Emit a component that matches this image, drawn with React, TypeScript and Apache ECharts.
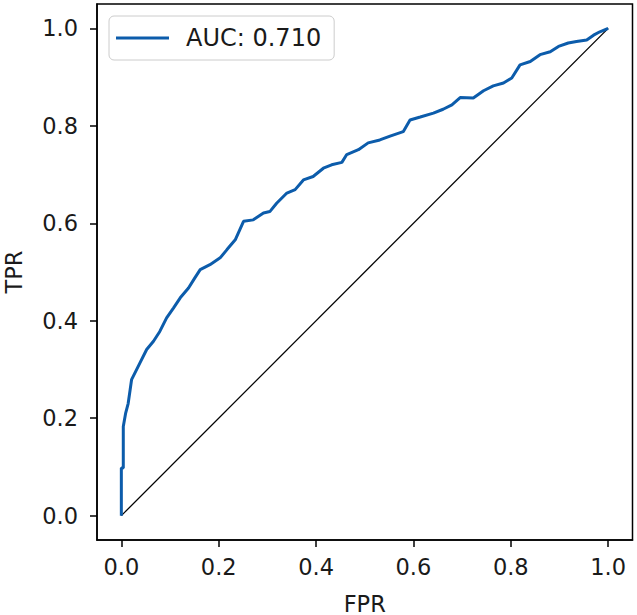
import React, { useEffect, useRef } from "react";
import * as echarts from "echarts";

const fprValues = [0, 0, 0.004, 0.004, 0.009, 0.014, 0.018, 0.021, 0.038, 0.052, 0.066, 0.079, 0.093, 0.107, 0.121, 0.138, 0.151, 0.162, 0.182, 0.203, 0.217, 0.234, 0.251, 0.271, 0.292, 0.305, 0.319, 0.34, 0.357, 0.374, 0.394, 0.415, 0.432, 0.453, 0.463, 0.487, 0.507, 0.531, 0.552, 0.579, 0.593, 0.614, 0.641, 0.661, 0.679, 0.696, 0.723, 0.744, 0.764, 0.785, 0.802, 0.819, 0.84, 0.86, 0.881, 0.898, 0.918, 0.935, 0.956, 0.97, 0.983, 1];
const tprValues = [0, 0.098, 0.098, 0.183, 0.211, 0.23, 0.258, 0.279, 0.313, 0.341, 0.358, 0.378, 0.406, 0.426, 0.447, 0.467, 0.488, 0.505, 0.515, 0.529, 0.546, 0.566, 0.604, 0.607, 0.621, 0.624, 0.641, 0.662, 0.669, 0.689, 0.696, 0.713, 0.72, 0.725, 0.741, 0.751, 0.765, 0.771, 0.779, 0.788, 0.812, 0.818, 0.826, 0.834, 0.843, 0.858, 0.857, 0.872, 0.882, 0.888, 0.898, 0.925, 0.932, 0.946, 0.952, 0.963, 0.97, 0.973, 0.976, 0.986, 0.993, 1];
const diagonalX = [0, 1];
const diagonalY = [0, 1];
const tickValues = [0, 0.2, 0.4, 0.6, 0.8, 1.0];
const legendLabel = "AUC: 0.710";

const FONT = "DejaVu Sans";
const TEXT = "#1a1a1a";

export default function App() {
  const ref = useRef<HTMLDivElement>(null);
  useEffect(() => {
    if (!ref.current) return;
    const chart = echarts.init(ref.current, null, { renderer: "svg" });
    const axisCommon = (name: string, isX: boolean) => ({
      type: "value",
      min: -0.05,
      max: 1.05,
      name,
      nameLocation: "middle",
      nameGap: isX ? 52 : 72,
      nameTextStyle: { fontFamily: FONT, fontSize: 22.5, color: TEXT },
      axisLine: { show: true, onZero: false, lineStyle: { color: "#000", width: 1.5 } },
      axisTick: {
        show: true,
        length: 7,
        customValues: tickValues,
        lineStyle: { color: "#000", width: 1.5 },
      },
      axisLabel: {
        customValues: tickValues,
        formatter: (v: number) => v.toFixed(1),
        fontFamily: FONT,
        fontSize: 22.5,
        color: TEXT,
        margin: isX ? 15 : 19,
      },
      splitLine: { show: false },
    });
    chart.setOption({
      animation: false,
      backgroundColor: "#fff",
      grid: {
        left: 97,
        top: 4,
        right: 4.5,
        bottom: 75,
        outerBoundsMode: "none",
        containLabel: false,
        show: true,
        borderColor: "#000",
        borderWidth: 1.5,
      },
      legend: {
        data: [legendLabel],
        left: 109,
        top: 16,
        icon: "rect",
        itemWidth: 53,
        itemHeight: 3,
        padding: [9, 13, 9, 7],
        borderColor: "#cccccc",
        borderWidth: 1,
        borderRadius: 5,
        backgroundColor: "#fff",
        textStyle: {
          fontFamily: FONT,
          fontSize: 24,
          color: TEXT,
          padding: [0, 0, 0, 12],
          lineHeight: 26,
        },
      },
      xAxis: axisCommon("FPR", true),
      yAxis: axisCommon("TPR", false),
      series: [
        {
          name: legendLabel,
          type: "line",
          data: fprValues.map((x, i) => [x, tprValues[i]]),
          showSymbol: false,
          symbol: "none",
          lineStyle: { color: "#0c5cab", width: 3 },
          itemStyle: { color: "#0c5cab" },
          z: 3,
        },
        {
          name: "diagonal",
          type: "line",
          data: diagonalX.map((x, i) => [x, diagonalY[i]]),
          showSymbol: false,
          symbol: "none",
          lineStyle: { color: "#000", width: 1.3 },
          itemStyle: { color: "#000" },
          z: 2,
        },
      ],
    });
    return () => chart.dispose();
  }, []);
  return (
    <div
      ref={ref}
      style={{ position: "absolute", left: 0, top: 0, width: 637, height: 615 }}
    />
  );
}
